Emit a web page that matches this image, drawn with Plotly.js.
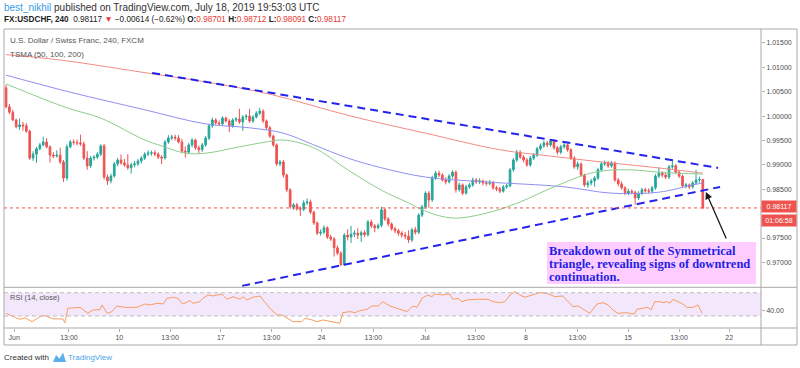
<!DOCTYPE html>
<html><head><meta charset="utf-8">
<script src="https://cdn.plot.ly/plotly-3.0.1.min.js"></script>
<style>html,body{margin:0;padding:0;background:#fff;}#chart{width:800px;height:368px;}</style>
</head><body><div id="chart"></div>
<script>
// ---- data (USDCHF 4h, FXCM) ----
const firstOpen = 1.0058;
const closes = [
1.0019,1.0008,0.9992,0.9978,0.9982,0.9980,0.9969,0.9914,0.9922,0.9933,
0.9941,0.9947,0.9937,0.9920,0.9918,0.9920,0.9906,0.9873,0.9937,0.9947,
0.9946,0.9945,0.9943,0.9914,0.9898,0.9914,0.9916,0.9922,0.9939,0.9875,
0.9867,0.9877,0.9902,0.9910,0.9904,0.9900,0.9894,0.9900,0.9902,0.9908,
0.9914,0.9922,0.9924,0.9925,0.9922,0.9916,0.9914,0.9947,0.9955,0.9957,
0.9955,0.9947,0.9928,0.9926,0.9941,0.9951,0.9935,0.9931,0.9941,0.9955,
0.9980,0.9992,0.9986,0.9984,0.9996,0.9990,0.9980,0.9992,0.9994,0.9988,
0.9998,1.0000,0.9990,0.9998,1.0006,1.0010,0.9990,0.9976,0.9959,0.9941,
0.9902,0.9906,0.9879,0.9849,0.9814,0.9818,0.9810,0.9809,0.9822,0.9824,
0.9803,0.9781,0.9760,0.9762,0.9771,0.9752,0.9748,0.9730,0.9719,0.9695,
0.9756,0.9752,0.9758,0.9760,0.9756,0.9761,0.9757,0.9783,0.9775,0.9771,
0.9776,0.9808,0.9789,0.9779,0.9769,0.9765,0.9760,0.9756,0.9754,0.9746,
0.9767,0.9762,0.9797,0.9814,0.9842,0.9828,0.9873,0.9883,0.9879,0.9869,
0.9865,0.9877,0.9885,0.9849,0.9859,0.9842,0.9855,0.9859,0.9869,0.9865,
0.9867,0.9863,0.9862,0.9864,0.9853,0.9851,0.9846,0.9855,0.9857,0.9890,
0.9910,0.9926,0.9916,0.9910,0.9900,0.9914,0.9920,0.9933,0.9939,0.9945,
0.9941,0.9949,0.9935,0.9926,0.9937,0.9941,0.9931,0.9914,0.9896,0.9902,
0.9879,0.9859,0.9863,0.9867,0.9873,0.9890,0.9902,0.9904,0.9898,0.9904,
0.9869,0.9861,0.9853,0.9842,0.9846,0.9844,0.9832,0.9842,0.9849,0.9847,
0.9846,0.9853,0.9877,0.9883,0.9879,0.9875,0.9896,0.9898,0.9885,0.9877,
0.9857,0.9859,0.9855,0.9863,0.9869,0.98701,0.98117];
const highs = [
1.0064,1.0025,1.0013,0.9995,0.9995,0.9988,0.9986,0.9972,0.9928,0.9937,
0.9945,0.9958,0.9955,0.9940,0.9926,0.9930,0.9935,0.9910,0.9942,0.9951,
0.9952,0.9952,0.9962,0.9948,0.9928,0.9918,0.9920,0.9926,0.9942,0.9943,
0.9880,0.9882,0.9906,0.9914,0.9921,0.9912,0.9922,0.9904,0.9908,0.9912,
0.9918,0.9926,0.9930,0.9929,0.9930,0.9926,0.9920,0.9951,0.9961,0.9962,
0.9962,0.9961,0.9953,0.9938,0.9945,0.9955,0.9954,0.9940,0.9945,0.9959,
0.9984,0.9997,0.9996,0.9991,1.0000,0.9999,0.9994,0.9996,0.9998,1.0015,
1.0002,1.0004,1.0015,1.0002,1.0010,1.0017,1.0014,0.9993,0.9980,0.9962,
0.9944,0.9910,0.9910,0.9882,0.9852,0.9822,0.9822,0.9815,0.9827,0.9831,
0.9829,0.9806,0.9784,0.9768,0.9776,0.9774,0.9757,0.9752,0.9735,0.9723,
0.9760,0.9768,0.9775,0.9766,0.9770,0.9765,0.9766,0.9787,0.9788,0.9779,
0.9780,0.9814,0.9812,0.9793,0.9782,0.9773,0.9769,0.9764,0.9762,0.9766,
0.9771,0.9773,0.9801,0.9818,0.9846,0.9846,0.9878,0.9888,0.9888,0.9883,
0.9875,0.9881,0.9889,0.9889,0.9864,0.9862,0.9859,0.9863,0.9874,0.9873,
0.9872,0.9870,0.9868,0.9869,0.9867,0.9857,0.9855,0.9859,0.9861,0.9894,
0.9914,0.9931,0.9930,0.9920,0.9914,0.9918,0.9924,0.9937,0.9944,0.9950,
0.9949,0.9953,0.9952,0.9939,0.9941,0.9946,0.9944,0.9934,0.9918,0.9907,
0.9905,0.9882,0.9868,0.9871,0.9877,0.9894,0.9906,0.9909,0.9908,0.9908,
0.9907,0.9873,0.9866,0.9856,0.9851,0.9850,0.9847,0.9846,0.9853,0.9853,
0.9852,0.9857,0.9881,0.9895,0.9887,0.9884,0.9900,0.9910,0.9902,0.9889,
0.9880,0.9863,0.9862,0.9867,0.9890,0.9876,0.98712];
const lows = [
1.0016,1.0004,0.9990,0.9975,0.9972,0.9970,0.9966,0.9910,0.9908,0.9904,
0.9930,0.9938,0.9934,0.9905,0.9914,0.9915,0.9902,0.9865,0.9868,0.9934,
0.9941,0.9940,0.9939,0.9910,0.9890,0.9894,0.9909,0.9912,0.9918,0.9870,
0.9859,0.9862,0.9874,0.9897,0.9900,0.9896,0.9890,0.9882,0.9895,0.9898,
0.9903,0.9910,0.9918,0.9919,0.9918,0.9912,0.9902,0.9911,0.9943,0.9951,
0.9950,0.9944,0.9924,0.9915,0.9922,0.9936,0.9931,0.9924,0.9927,0.9937,
0.9951,0.9976,0.9982,0.9980,0.9981,0.9987,0.9967,0.9976,0.9988,0.9984,
0.9970,0.9992,0.9986,0.9986,0.9995,1.0002,0.9986,0.9972,0.9955,0.9937,
0.9898,0.9897,0.9874,0.9844,0.9810,0.9808,0.9806,0.9795,0.9805,0.9818,
0.9799,0.9777,0.9756,0.9755,0.9758,0.9748,0.9744,0.9712,0.9715,0.9693,
0.9693,0.9745,0.9740,0.9752,0.9748,0.9742,0.9752,0.9753,0.9770,0.9762,
0.9768,0.9772,0.9785,0.9774,0.9765,0.9760,0.9755,0.9751,0.9748,0.9740,
0.9742,0.9757,0.9758,0.9793,0.9810,0.9812,0.9824,0.9869,0.9875,0.9866,
0.9860,0.9862,0.9872,0.9843,0.9845,0.9838,0.9839,0.9851,0.9855,0.9861,
0.9861,0.9858,0.9857,0.9858,0.9849,0.9846,0.9842,0.9843,0.9851,0.9854,
0.9886,0.9906,0.9912,0.9905,0.9896,0.9896,0.9910,0.9916,0.9929,0.9935,
0.9936,0.9937,0.9931,0.9921,0.9922,0.9933,0.9927,0.9910,0.9892,0.9890,
0.9875,0.9855,0.9853,0.9858,0.9855,0.9869,0.9886,0.9898,0.9894,0.9894,
0.9865,0.9856,0.9849,0.9838,0.9838,0.9840,0.9818,0.9828,0.9838,0.9843,
0.9841,0.9842,0.9849,0.9873,0.9874,0.9871,0.9871,0.9892,0.9881,0.9873,
0.9853,0.9852,0.9850,0.9851,0.9859,0.9864,0.98091];

// moving averages (bar index, value)
const ma200Idx = [0,16,43,60,78,102,124,146,161,176,190,206];
const ma200Val = [1.0126,1.0115,1.0087,1.0069,1.0045,1.0000,0.9965,0.9931,0.9918,0.9906,0.9896,0.9883];
const ma100Idx = [0,19,41,59,72,82,91,101,111,124,142,165,179,193,203,206];
const ma100Val = [1.0084,1.0049,1.0013,0.9984,0.9976,0.9965,0.9941,0.9914,0.9894,0.9875,0.9865,0.9855,0.9842,0.9844,0.9859,0.9863];
const ma50Idx = [0,18,28,41,46,53,59,69,77,82,91,101,111,119,124,132,142,152,162,174,184,193,206];
const ma50Val = [1.0066,1.0017,0.9996,0.9951,0.9939,0.9924,0.9924,0.9937,0.9947,0.9951,0.9935,0.9890,0.9848,0.9822,0.9805,0.9791,0.9801,0.9824,0.9855,0.9885,0.9890,0.9885,0.9881];

// RSI(14) samples
const rsiIdx = [0,4.1,5.6,7.7,10.1,11.5,13.9,16.8,17.4,18.3,21.9,24.2,25.7,27.8,28.4,29.9,31.3,32.8,35.2,38.7,
41.1,42.6,44.6,46.4,47.6,49.4,50.8,52.3,54.4,55.3,57.3,58.2,59.7,61.2,63.8,65.3,67.1,69.2,70.1,71.2,
73.0,75.1,76.0,78.0,80.1,81.6,84.0,84.8,87.5,88.4,90.5,91.9,93.7,95.8,98.7,99.6,101.7,103.2,104.6,106.7,
108.2,110.0,111.4,113.5,116.5,118.5,120.3,121.5,123.0,124.7,125.9,126.8,128.9,131.2,132.1,133.6,134.8,136.3,139.2,142.5,
144.0,146.0,147.5,149.0,150.5,151.9,153.4,155.5,157.8,159.9,162.3,164.6,165.8,167.6,169.1,171.7,172.6,174.7,176.5,178.0,
179.4,180.9,183.5,185.0,185.9,186.5,188.3,189.8,190.7,191.8,193.3,194.2,195.4,196.3,197.2,198.6,200.1,201.3,203.1,204.6,205.8];
const rsiVal = [34.6,24.3,27,20.2,29,30.7,25,25,18.5,43.2,44.9,34.6,40.3,41,48.9,34.6,37.5,47.2,44.9,44.9,
50.6,48.9,51.8,50.6,60.4,62.2,60.4,50.6,56.4,51.8,54.6,60.4,66.1,64.4,67.8,58.7,63.2,58.7,63.2,57.5,
62.2,64.4,57.5,43.2,31.8,31.8,23.2,20.3,20.3,26.1,23.2,20.3,23.2,20.3,17.5,35.8,37.5,35.8,39.2,41.5,
47.2,47.2,54.6,47.2,42,37.5,47.2,44.9,60.4,66.1,63.2,67.8,66.1,67.8,58.7,60.4,54.6,57.5,58.7,58.7,
54.6,52.9,54.6,66.1,71.7,66.1,62.2,66.1,70.1,69,63.2,64.4,57.5,46.1,47.2,37.5,34.6,50.6,52.9,48.9,
40.3,34.6,35.8,33.5,34.6,41.5,43.2,44.9,40.3,54.6,54.6,52.9,54.6,51.8,58.7,54.6,50.6,44.9,44.9,48.9,34.6];

// axis labels
const xTickIdx  = [2.4,18.6,33.5,48.5,63.5,78.5,93.3,108.6,123.9,138.9,153.7,168.9,183.9,199.0,213.8];
const xTickText = ['Jun','13:00','10','13:00','17','13:00','24','13:00','Jul','13:00','8','13:00','15','13:00','22'];
const priceTicks = [0.970,0.975,0.985,0.990,0.995,1.000,1.005,1.010,1.015];
const rsiTicks = [40];
const rsiBand = [30,70];

// drawn trend lines (bar index, price)
const upperIdx = [43.2,210.5], upperPrice = [1.00886,0.98938];
const lowerIdx = [69.8,211.1], lowerPrice = [0.96519,0.98548];
const arrowHeadIdx = 206.9, arrowHeadPrice = 0.98445;
const countdown = '01:06:58';

// ---- build ----
const idx = closes.map((_, i) => i);
const opens = closes.map((c, i) => i === 0 ? firstOpen : closes[i - 1]);
const lastClose = closes[closes.length - 1];

const W = 800, H = 368, ML = 4, MR = 39, MT = 29, MB = 40;
const PW = W - ML - MR, PH = H - MT - MB;
const px = x => (x - ML) / PW;
const py = y => (H - MB - y) / PH;
const split = py(287.3);
const FONT = 'Liberation Sans, Arial, sans-serif';
const UP = '#26a69a', DN = '#ef5350';
const FR = '#a9a9a9';

const traces = [
  {type:'candlestick', x: idx, open: opens, high: highs, low: lows, close: closes,
   xaxis:'x', yaxis:'y', whiskerwidth:0,
   increasing:{line:{color:UP,width:1}, fillcolor:UP},
   decreasing:{line:{color:DN,width:1}, fillcolor:DN}, hoverinfo:'skip', showlegend:false},
  {type:'scatter', mode:'lines', x: ma200Idx, y: ma200Val, line:{color:'#f28b86', width:1, shape:'spline', smoothing:1}, xaxis:'x', yaxis:'y', hoverinfo:'skip'},
  {type:'scatter', mode:'lines', x: ma100Idx, y: ma100Val, line:{color:'#8f8ff2', width:1, shape:'spline', smoothing:1}, xaxis:'x', yaxis:'y', hoverinfo:'skip'},
  {type:'scatter', mode:'lines', x: ma50Idx, y: ma50Val, line:{color:'#8ccd8c', width:1, shape:'spline', smoothing:1}, xaxis:'x', yaxis:'y', hoverinfo:'skip'},
  {type:'scatter', mode:'lines', x: upperIdx, y: upperPrice, line:{color:'#2323ee', width:2, dash:'8px,5px'}, xaxis:'x', yaxis:'y', hoverinfo:'skip'},
  {type:'scatter', mode:'lines', x: lowerIdx, y: lowerPrice, line:{color:'#2323ee', width:2, dash:'8px,5px'}, xaxis:'x', yaxis:'y', hoverinfo:'skip'},
  {type:'scatter', mode:'lines', x: rsiIdx, y: rsiVal, line:{color:'#f89c5e', width:1}, xaxis:'x', yaxis:'y2', hoverinfo:'skip'}
];

const shapes = [
  // RSI band
  {type:'rect', xref:'paper', yref:'y2', x0:0, x1:1, y0:rsiBand[0], y1:rsiBand[1], fillcolor:'#f3e7fc', line:{width:0}, layer:'below'},
  {type:'line', xref:'paper', yref:'y2', x0:0, x1:1, y0:rsiBand[1], y1:rsiBand[1], line:{color:'#bdbdbd', width:1, dash:'4px,3px'}},
  {type:'line', xref:'paper', yref:'y2', x0:0, x1:1, y0:rsiBand[0], y1:rsiBand[0], line:{color:'#bdbdbd', width:1, dash:'4px,3px'}},
  // last price line
  {type:'line', xref:'paper', yref:'y', x0:0, x1:1, y0:lastClose, y1:lastClose, line:{color:DN, width:1, dash:'dot'}},
  // frame
  {type:'rect', xref:'paper', yref:'paper', x0:0, x1:px(797), y0:py(345), y1:1, line:{color:FR, width:1}},
  {type:'line', xref:'paper', yref:'paper', x0:0, x1:px(797), y0:split, y1:split, line:{color:FR, width:1}},
  {type:'line', xref:'paper', yref:'paper', x0:0, x1:px(797), y0:0, y1:0, line:{color:FR, width:1}},
  {type:'line', xref:'paper', yref:'paper', x0:1, x1:1, y0:py(345), y1:1, line:{color:FR, width:1}},
  // annotation box
  {type:'rect', xref:'paper', yref:'paper', x0:px(547), x1:px(756), y0:py(284), y1:py(242), fillcolor:'#ffccff', line:{width:0}},
  // TradingView logo
  {type:'path', xref:'paper', yref:'paper',
   path:`M ${px(53)},${py(362)} L ${px(56)},${py(355)} L ${px(59.5)},${py(358.5)} L ${px(63)},${py(352.5)} L ${px(66)},${py(362)} Z`,
   fillcolor:'#5fb0ea', line:{width:0}}
];

const tfont = (size, color, extra) => Object.assign({family:FONT, size:size, color:color}, extra || {});
const txt = (x, y, text, font, opts) => Object.assign({xref:'paper', yref:'paper', x:px(x), y:py(y), xanchor:'left', yanchor:'middle', text:text, showarrow:false, font:font}, opts || {});
const RED = '#e53935';
const annotations = [
  txt(2, 7, '<span style="color:#3a9de6">best_nikhil</span> published on TradingView.com, July 18, 2019 19:53:03 UTC', tfont(10, '#333')),
  txt(2, 19, '<b>FX:USDCHF, 240</b>  0.98117 <span style="color:' + RED + '">▼</span> −0.00614 (−0.62%) <b>O:</b><span style="color:' + RED + '">0.98701</span> <b>H:</b><span style="color:' + RED + '">0.98712</span> <b>L:</b><span style="color:' + RED + '">0.98091</span> <b>C:</b><span style="color:' + RED + '">0.98117</span>', tfont(8.2, '#222')),
  txt(8, 41, 'U.S. Dollar / Swiss Franc, 240, FXCM', tfont(8, '#555')),
  txt(8, 54, 'TSMA (50, 100, 200)', tfont(8, '#555')),
  txt(8, 297, 'RSI (14, close)', tfont(7.5, '#555')),
  txt(547, 250.5, 'Breakdown out of the Symmetrical', tfont(12.5, '#1f1fe6', {family:'Liberation Serif, Times New Roman, serif'}), {text:'<b>Breakdown out of the Symmetrical</b>'}),
  txt(547, 263.5, '', tfont(12.5, '#1f1fe6', {family:'Liberation Serif, Times New Roman, serif'}), {text:'<b>triangle, revealing signs of downtrend</b>'}),
  txt(547, 276.5, '', tfont(12.5, '#1f1fe6', {family:'Liberation Serif, Times New Roman, serif'}), {text:'<b>continuation.</b>'}),
  {xref:'x', yref:'y', x:arrowHeadIdx, y:arrowHeadPrice, ax:21, ay:48, text:'', showarrow:true,
   arrowhead:2, arrowsize:1.1, arrowwidth:1.3, arrowcolor:'#1a1a1a', standoff:0},
  {xref:'paper', yref:'y', x:1, y:lastClose, xanchor:'left', yanchor:'bottom', yshift:-5, text:lastClose.toFixed(5),
   showarrow:false, bgcolor:DN, width:32, height:9, borderpad:1, font:tfont(7, '#fff')},
  {xref:'paper', yref:'y', x:1, y:lastClose, xanchor:'left', yanchor:'top', yshift:-6, text:countdown,
   showarrow:false, bgcolor:DN, width:32, height:9, borderpad:1, font:tfont(7, '#fff')},
  txt(2, 357, 'Created with', tfont(8, '#333')),
  txt(66, 357, 'TradingView', tfont(8, '#4aa3e8'))
];

const layout = {
  width: W, height: H, margin:{l:ML, r:MR, t:MT, b:MB, pad:0},
  paper_bgcolor:'#fff', plot_bgcolor:'#fff', showlegend:false, hovermode:false,
  xaxis:{range:[-0.6, 223.2], anchor:'y2', tickvals:xTickIdx, ticktext:xTickText,
         ticks:'outside', ticklen:3, tickcolor:'#b0b0b0', tickfont:tfont(7, '#4d4d4d'),
         showgrid:false, zeroline:false, showline:false, rangeslider:{visible:false}, fixedrange:true},
  yaxis:{domain:[split, 1], range:[0.9649, 1.01786], side:'right', anchor:'x',
         tickvals:priceTicks, ticktext:priceTicks.map(v => v.toFixed(5)),
         ticks:'outside', ticklen:3, tickcolor:'#b0b0b0', tickfont:tfont(7, '#4d4d4d'),
         showgrid:false, zeroline:false, showline:false, fixedrange:true},
  yaxis2:{domain:[0, split], range:[9.4, 79.3], side:'right', anchor:'x',
         tickvals:rsiTicks, ticktext:rsiTicks.map(v => v.toFixed(2)),
         ticks:'outside', ticklen:3, tickcolor:'#b0b0b0', tickfont:tfont(7, '#4d4d4d'),
         showgrid:false, zeroline:false, showline:false, fixedrange:true},
  shapes: shapes, annotations: annotations
};

Plotly.newPlot('chart', traces, layout, {staticPlot:true, displayModeBar:false});
</script></body></html>
